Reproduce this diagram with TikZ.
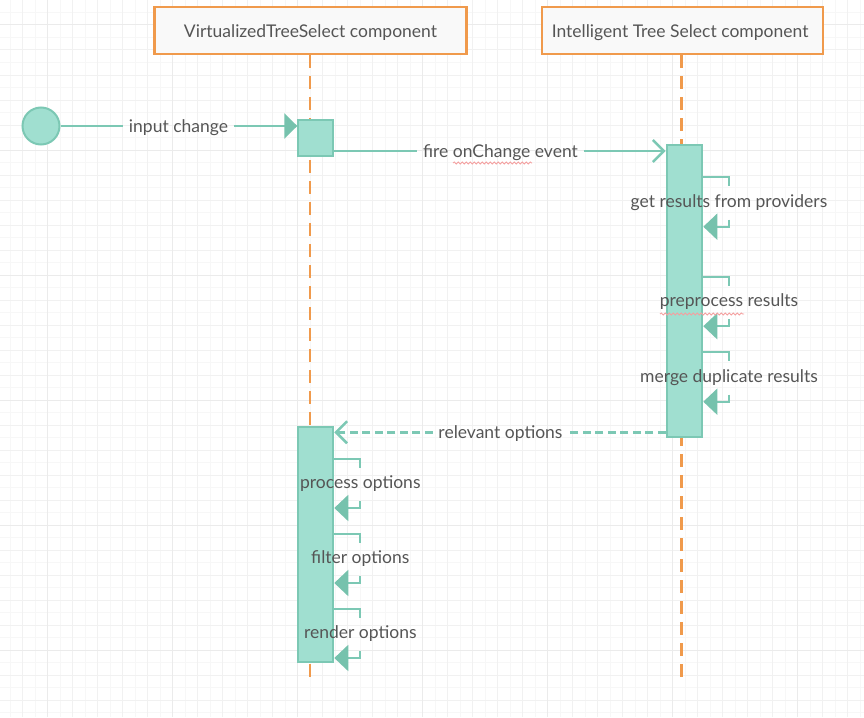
\documentclass[tikz,border=0pt]{standalone}
\usepackage{fontspec}
\setmainfont{Lato}
\usetikzlibrary{arrows.meta,decorations.pathmorphing}
\definecolor{tealfill}{HTML}{A0DFD0}
\definecolor{tealline}{HTML}{7CC8B4}
\definecolor{tealhead}{HTML}{76C2AD}
\definecolor{orangeline}{HTML}{F09A4C}
\definecolor{headfill}{HTML}{F9F9F9}
\definecolor{txt}{HTML}{555555}
\definecolor{gridA}{HTML}{F7F7F7}
\definecolor{gridB}{HTML}{F1F1F1}
\definecolor{gridC}{HTML}{EBEBEB}
\definecolor{squig}{HTML}{F4A0A0}
\begin{document}
\begin{tikzpicture}[x=1pt,y=-1pt,
  every node/.style={font=\fontsize{17.5}{21}\selectfont, text=txt},
  header/.style={draw=orangeline, line width=2.2pt, fill=headfill, minimum height=47pt, inner sep=0pt, text height=12.6pt, text depth=0pt},
  lifeline/.style={draw=orangeline, line width=2.5pt, dash pattern=on 13pt off 8pt},
  act/.style={draw=tealline, line width=2pt, fill=tealfill, inner sep=0pt, minimum width=35pt},
  msg/.style={draw=tealline, line width=2.5pt},
  dmsg/.style={msg, dash pattern=on 8pt off 4.5pt},
  fillhead/.style={-{Triangle[length=14pt,width=26pt,fill=tealhead,color=tealhead]}},
  openhead/.style={-{Straight Barb[length=11pt,width=22pt,line width=2.5pt]}},
  msglbl/.style={inner xsep=5.5pt, inner ysep=0pt, text height=12.5pt, text depth=4pt},
  selflbl/.style={inner xsep=0pt, inner ysep=0pt, text height=12.5pt, text depth=4pt, minimum height=33pt},
  spell/.style={draw=squig, line width=0.8pt, decorate, decoration={snake, amplitude=1.1pt, segment length=4pt}}
]
\useasboundingbox (0,0) rectangle (864,717);
\fill[white] (0,0) rectangle (864,717);
% grid
\foreach \i in {0,...,68} {\draw[gridA, line width=1pt] ({10+12.5*\i},0) -- ({10+12.5*\i},717);}
\foreach \i in {0,...,57} {\draw[gridA, line width=1pt] (0,{12.5*\i}) -- (864,{12.5*\i});}
\foreach \i in {0,...,34} {\draw[gridB, line width=1pt] ({22.5+25*\i},0) -- ({22.5+25*\i},717);}
\foreach \i in {0,...,28} {\draw[gridB, line width=1pt] (0,{25*\i}) -- (864,{25*\i});}
\foreach \i in {0,...,6} {\draw[gridC, line width=1pt] ({47.5+125*\i},0) -- ({47.5+125*\i},717);}
\foreach \i in {0,...,5} {\draw[gridC, line width=1pt] (0,{25+125*\i}) -- (864,{25+125*\i});}

% headers
\node[header, minimum width=312pt] (h1) at (310.5,30.8) {VirtualizedTreeSelect component};
\node[header, minimum width=281pt] (h2) at (682.2,30.8) {};
\begin{scope}
  \clip (h2.north west) rectangle ([xshift=-15pt]h2.south east);
  \node[anchor=west, inner sep=0pt, text height=12.6pt, text depth=0pt] (h2text) at ([xshift=11pt]h2.west) {Intelligent Tree Select component};
\end{scope}

% lifelines
\coordinate (l1end) at (310,683);
\coordinate (l2end) at (681.7,683);
\draw[lifeline] (h1.south -| l1end) -- (l1end);
\draw[lifeline] (h2.south -| l2end) -- (l2end);

% start
\node[circle, draw=tealline, line width=2pt, fill=tealfill, minimum size=37pt, inner sep=0pt] (start) at (41,126) {};

% activations
\node[act, minimum height=35.7pt] (a1) at (315.8,138.2) {};
\node[act, minimum width=35.6pt, minimum height=292.3pt] (a2) at (684.5,291.2) {};
\node[act, minimum height=235.6pt] (a3) at (315.8,544.5) {};

% input change
\node[msglbl] (m1) at (178.5,128) {input change};
\draw[msg] (start.east) -- (m1.west |- start.east);
\draw[msg, -{Triangle[length=13pt,width=25pt,fill=tealhead,color=tealhead]}] (m1.east |- start.east) -- (start.east -| a1.west);

% fire onChange event
\node[msglbl] (m2) at (500.5,153) {fire onChange event};
\coordinate (m2y) at (500.5,151);
\draw[msg] (a1.east |- m2y) -- (m2.west |- m2y);
\draw[msg, openhead] (m2.east |- m2y) -- (m2y -| a2.west);
\draw[spell] (453,163) -- (532,163);

% self messages on a2
\foreach \n/\y/\t in {s1/203/get results from providers, s2/302.5/preprocess results, s3/378/merge duplicate results}{
  \node[selflbl] (\n) at (729,\y) {\t};
  \path (\n.north) ++(0,-9) coordinate (\n t);
  \path (\n.south) ++(0,7) coordinate (\n b);
  \draw[msg, line width=2pt] (\n t -| a2.east) -- (\n t) -- (\n.north);
  \draw[msg, line width=2pt, fillhead] (\n.south) -- (\n b) -- (\n b -| a2.east);
}
\draw[spell] (660,314) -- (744,314);

% relevant options
\node[msglbl] (m3) at (500.5,434.3) {relevant options};
\coordinate (m3y) at (500.5,432.3);
\draw[dmsg] (a2.west |- m3y) -- (m3.east |- m3y);
\draw[dmsg, openhead] (m3.west |- m3y) -- (m3y -| a3.east);

% self messages on a3
\foreach \n/\y/\t in {r1/484.3/process options, r2/559.3/filter options, r3/634.3/render options}{
  \node[selflbl] (\n) at (360.3,\y) {\t};
  \path (\n.north) ++(0,-9) coordinate (\n t);
  \path (\n.south) ++(0,7) coordinate (\n b);
  \draw[msg, line width=2pt] (\n t -| a3.east) -- (\n t) -- (\n.north);
  \draw[msg, line width=2pt, fillhead] (\n.south) -- (\n b) -- (\n b -| a3.east);
}
\end{tikzpicture}
\end{document}
